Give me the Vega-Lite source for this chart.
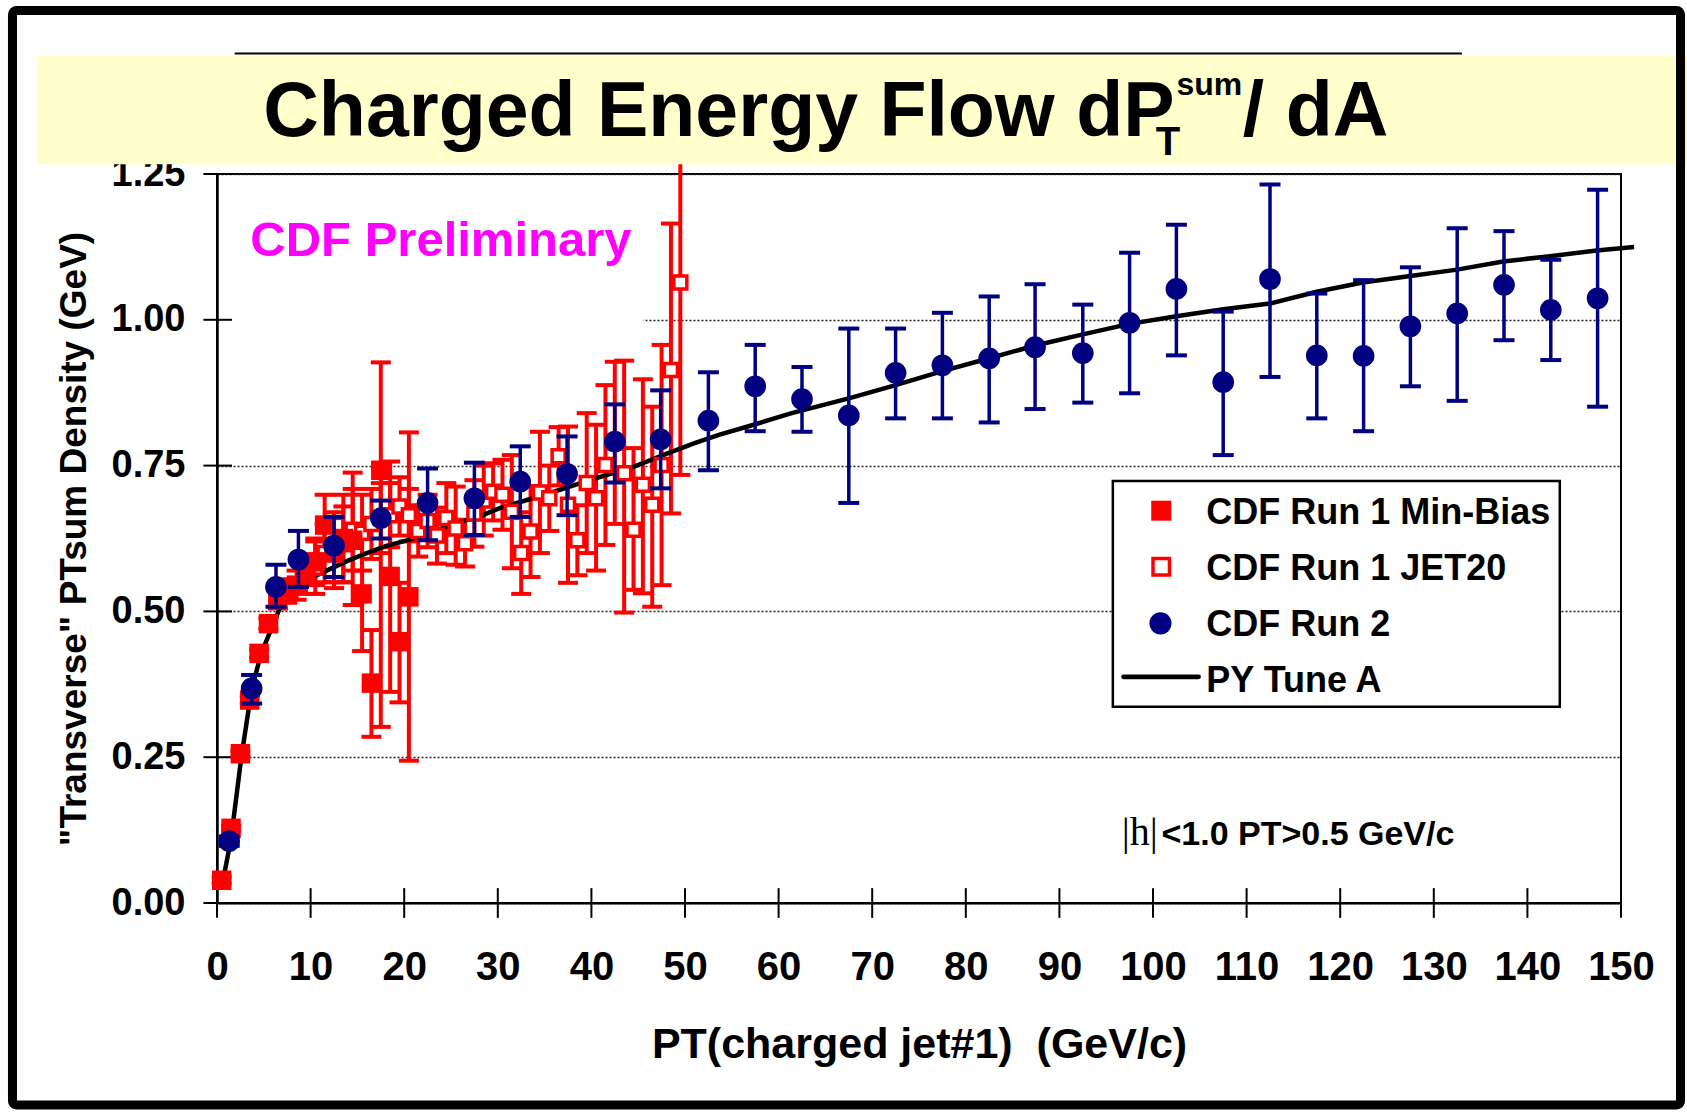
{
"$schema": "https://vega.github.io/schema/vega-lite/v6.json",
"width": 1404, "height": 729,
"autosize": {"type": "none"},
"padding": {"left": 217, "top": 174, "right": 66, "bottom": 216},
"background": "white",
"config": {"view": {"stroke": "black", "strokeWidth": 2}, "font": "Liberation Sans"},
"datasets": {
"minbias": [
{"x":0.5,"y":0.039,"lo":0.034,"hi":0.044},{"x":1.5,"y":0.128,"lo":0.124,"hi":0.132},{"x":2.5,"y":0.256,"lo":0.251,"hi":0.261},
{"x":3.5,"y":0.348,"lo":0.342,"hi":0.354},{"x":4.5,"y":0.428,"lo":0.421,"hi":0.435},{"x":5.5,"y":0.479,"lo":0.47,"hi":0.488},
{"x":6.5,"y":0.52,"lo":0.505,"hi":0.535},{"x":7.5,"y":0.535,"lo":0.515,"hi":0.555},{"x":8.5,"y":0.545,"lo":0.52,"hi":0.57},
{"x":9.5,"y":0.56,"lo":0.53,"hi":0.59},{"x":10.5,"y":0.585,"lo":0.545,"hi":0.625},{"x":11.5,"y":0.648,"lo":0.6,"hi":0.7},
{"x":12.5,"y":0.6,"lo":0.54,"hi":0.66},{"x":13.5,"y":0.625,"lo":0.55,"hi":0.7},{"x":14.5,"y":0.622,"lo":0.511,"hi":0.738},
{"x":15.5,"y":0.53,"lo":0.432,"hi":0.628},{"x":16.5,"y":0.377,"lo":0.285,"hi":0.468},{"x":17.5,"y":0.742,"lo":0.302,"hi":0.927},
{"x":18.5,"y":0.56,"lo":0.362,"hi":0.757},{"x":19.5,"y":0.448,"lo":0.344,"hi":0.549},{"x":20.5,"y":0.525,"lo":0.244,"hi":0.807}],
"jet20": [
{"x":10.5,"y":0.575,"lo":0.53,"hi":0.62},{"x":11.5,"y":0.6,"lo":0.55,"hi":0.65},{"x":12.5,"y":0.61,"lo":0.55,"hi":0.67},
{"x":13.5,"y":0.615,"lo":0.55,"hi":0.68},{"x":14.5,"y":0.64,"lo":0.57,"hi":0.71},{"x":15.5,"y":0.635,"lo":0.57,"hi":0.7},
{"x":16.5,"y":0.65,"lo":0.59,"hi":0.71},{"x":17.5,"y":0.66,"lo":0.6,"hi":0.72},{"x":18.5,"y":0.665,"lo":0.61,"hi":0.72},
{"x":19.5,"y":0.68,"lo":0.63,"hi":0.73},{"x":20.5,"y":0.665,"lo":0.62,"hi":0.71},{"x":21.5,"y":0.638,"lo":0.594,"hi":0.682},
{"x":22.5,"y":0.655,"lo":0.61,"hi":0.7},{"x":23.5,"y":0.63,"lo":0.582,"hi":0.678},{"x":24.5,"y":0.66,"lo":0.6,"hi":0.72},
{"x":25.5,"y":0.642,"lo":0.58,"hi":0.714},{"x":26.5,"y":0.617,"lo":0.577,"hi":0.657},{"x":27.5,"y":0.668,"lo":0.611,"hi":0.725},
{"x":28.5,"y":0.69,"lo":0.63,"hi":0.75},{"x":29.5,"y":0.705,"lo":0.656,"hi":0.754},{"x":30.5,"y":0.7,"lo":0.64,"hi":0.76},
{"x":31.5,"y":0.671,"lo":0.574,"hi":0.768},{"x":32.5,"y":0.6,"lo":0.53,"hi":0.67},{"x":33.5,"y":0.637,"lo":0.559,"hi":0.715},
{"x":34.5,"y":0.704,"lo":0.6,"hi":0.808},{"x":35.5,"y":0.694,"lo":0.638,"hi":0.75},{"x":36.5,"y":0.766,"lo":0.716,"hi":0.816},
{"x":37.5,"y":0.683,"lo":0.549,"hi":0.817},{"x":38.5,"y":0.622,"lo":0.562,"hi":0.682},{"x":39.5,"y":0.72,"lo":0.6,"hi":0.84},
{"x":40.5,"y":0.694,"lo":0.57,"hi":0.82},{"x":41.5,"y":0.751,"lo":0.614,"hi":0.888},{"x":42.5,"y":0.79,"lo":0.65,"hi":0.928},
{"x":43.5,"y":0.737,"lo":0.498,"hi":0.93},{"x":44.5,"y":0.64,"lo":0.537,"hi":0.78},{"x":45.5,"y":0.717,"lo":0.531,"hi":0.898},
{"x":46.5,"y":0.683,"lo":0.508,"hi":0.851},{"x":47.5,"y":0.751,"lo":0.545,"hi":0.957},{"x":48.5,"y":0.914,"lo":0.668,"hi":1.165},
{"x":49.5,"y":1.064,"lo":0.734,"hi":1.35}],
"run2": [
{"x":1.3,"y":0.106,"lo":0.098,"hi":0.114},{"x":3.7,"y":0.368,"lo":0.342,"hi":0.391},{"x":6.3,"y":0.542,"lo":0.508,"hi":0.58},
{"x":8.7,"y":0.589,"lo":0.542,"hi":0.638},{"x":12.5,"y":0.613,"lo":0.559,"hi":0.662},{"x":17.5,"y":0.66,"lo":0.625,"hi":0.69},
{"x":22.5,"y":0.686,"lo":0.622,"hi":0.745},{"x":27.5,"y":0.694,"lo":0.631,"hi":0.755},{"x":32.4,"y":0.7225,"lo":0.662,"hi":0.783},
{"x":37.4,"y":0.736,"lo":0.665,"hi":0.8},{"x":42.5,"y":0.791,"lo":0.721,"hi":0.855},{"x":47.4,"y":0.795,"lo":0.711,"hi":0.879},
{"x":52.5,"y":0.827,"lo":0.742,"hi":0.91},{"x":57.5,"y":0.886,"lo":0.809,"hi":0.957},{"x":62.5,"y":0.864,"lo":0.808,"hi":0.919},
{"x":67.5,"y":0.836,"lo":0.686,"hi":0.985},{"x":72.5,"y":0.909,"lo":0.831,"hi":0.985},{"x":77.5,"y":0.922,"lo":0.831,"hi":1.012},
{"x":82.5,"y":0.934,"lo":0.824,"hi":1.04},{"x":87.4,"y":0.953,"lo":0.847,"hi":1.061},{"x":92.5,"y":0.943,"lo":0.858,"hi":1.026},
{"x":97.5,"y":0.995,"lo":0.874,"hi":1.115},{"x":102.5,"y":1.053,"lo":0.939,"hi":1.163},{"x":107.5,"y":0.893,"lo":0.768,"hi":1.014},
{"x":112.5,"y":1.07,"lo":0.902,"hi":1.232},{"x":117.5,"y":0.939,"lo":0.831,"hi":1.045},{"x":122.5,"y":0.938,"lo":0.809,"hi":1.068},
{"x":127.5,"y":0.989,"lo":0.886,"hi":1.09},{"x":132.5,"y":1.011,"lo":0.861,"hi":1.157},{"x":137.5,"y":1.06,"lo":0.965,"hi":1.152},
{"x":142.5,"y":1.017,"lo":0.931,"hi":1.103},{"x":147.5,"y":1.037,"lo":0.851,"hi":1.223}],
"pytune": [
{"x":0.6,"y":0.035},{"x":1.5,"y":0.11},{"x":2.6,"y":0.25},{"x":3.7,"y":0.366},{"x":4.7,"y":0.427},{"x":5.8,"y":0.47},
{"x":6.7,"y":0.505},{"x":7.4,"y":0.527},{"x":8.5,"y":0.545},{"x":10,"y":0.557},{"x":12,"y":0.572},{"x":14,"y":0.587},
{"x":16,"y":0.6},{"x":18,"y":0.612},{"x":20.6,"y":0.623},{"x":23,"y":0.637},{"x":26,"y":0.653},{"x":28.4,"y":0.665},
{"x":30.2,"y":0.677},{"x":35,"y":0.7},{"x":40,"y":0.726},{"x":44.5,"y":0.748},{"x":48,"y":0.77},{"x":51.1,"y":0.789},
{"x":53.7,"y":0.803},{"x":56.7,"y":0.817},{"x":61.4,"y":0.84},{"x":67.7,"y":0.866},{"x":72.5,"y":0.888},{"x":77.5,"y":0.912},
{"x":82.5,"y":0.934},{"x":87.2,"y":0.955},{"x":92.5,"y":0.975},{"x":97.5,"y":0.993},{"x":102.5,"y":1.006},{"x":107.5,"y":1.018},
{"x":112.5,"y":1.028},{"x":117.5,"y":1.048},{"x":122.4,"y":1.064},{"x":127.5,"y":1.075},{"x":132.5,"y":1.086},{"x":137.4,"y":1.1},
{"x":142.4,"y":1.109},{"x":147.4,"y":1.119},{"x":151.4,"y":1.125}],
"xticks": [{"v":0},{"v":10},{"v":20},{"v":30},{"v":40},{"v":50},{"v":60},{"v":70},{"v":80},{"v":90},{"v":100},{"v":110},{"v":120},{"v":130},{"v":140},{"v":150}],
"yticks": [{"v":0},{"v":0.25},{"v":0.5},{"v":0.75},{"v":1.0},{"v":1.25}]
},
"layer": [
{"data": {"name": "pytune"}, "mark": {"type": "line", "opacity": 0},
 "encoding": {
  "x": {"field": "x", "type": "quantitative", "scale": {"domain": [0,150], "nice": false},
   "axis": {"title": "PT(charged jet#1)\u00a0 (GeV/c)", "values": [0,10,20,30,40,50,60,70,80,90,100,110,120,130,140,150],
    "labelFont": "Liberation Sans", "labelFontWeight": "bold", "labelFontSize": 40, "labelColor": "black", "labelFlush": false, "labelOverlap": false,
    "labelPadding": 44, "ticks": false, "tickSize": 0, "grid": false, "domainColor": "black", "domainWidth": 2,
    "titleFont": "Liberation Sans", "titleFontWeight": "bold", "titleFontSize": 43, "titleColor": "black", "titlePadding": 36, "titleLimit": 2000}},
  "y": {"field": "y", "type": "quantitative", "scale": {"domain": [0,1.25], "nice": false},
   "axis": {"title": "\"Transverse\" PTsum Density (GeV)", "values": [0,0.25,0.5,0.75,1.0,1.25], "format": ".2f",
    "labelFont": "Liberation Sans", "labelFontWeight": "bold", "labelFontSize": 38, "labelColor": "black", "labelFlush": false, "labelOverlap": false,
    "labelPadding": 32, "ticks": false, "tickSize": 0, "grid": true, "gridColor": "#222222", "gridDash": [2,2], "gridWidth": 1.3,
    "domainColor": "black", "domainWidth": 2.5,
    "titleFont": "Liberation Sans", "titleFontWeight": "bold", "titleFontSize": 37, "titleColor": "black", "titlePadding": 18, "titleLimit": 2000}}}},
{"data": {"values": [{}]}, "mark": {"type": "rect", "fill": "white", "strokeWidth": 0},
 "encoding": {"x": {"datum": 0.3, "type": "quantitative", "scale": {"domain": [0,150], "nice": false}}, "x2": {"datum": 45.55},
  "y": {"datum": 0.96, "type": "quantitative", "scale": {"domain": [0,1.25], "nice": false}}, "y2": {"datum": 1.24}}},
{"data": {"name": "xticks"}, "mark": {"type": "rule", "color": "black", "strokeWidth": 2},
 "encoding": {"x": {"field": "v", "type": "quantitative", "scale": {"domain": [0,150], "nice": false}},
  "y": {"datum": -0.0255, "type": "quantitative", "scale": {"domain": [0,1.25], "nice": false}}, "y2": {"datum": 0.0255}}},
{"data": {"name": "yticks"}, "mark": {"type": "rule", "color": "black", "strokeWidth": 2},
 "encoding": {"y": {"field": "v", "type": "quantitative", "scale": {"domain": [0,1.25], "nice": false}},
  "x": {"datum": -1.45, "type": "quantitative", "scale": {"domain": [0,150], "nice": false}}, "x2": {"datum": 1.6}}},
{"data": {"name": "jet20"}, "mark": {"type": "rule", "color": "#FF0000", "strokeWidth": 4},
 "encoding": {"x": {"field": "x", "type": "quantitative", "scale": {"domain": [0,150], "nice": false}},
  "y": {"field": "lo", "type": "quantitative", "scale": {"domain": [0,1.25], "nice": false}}, "y2": {"field": "hi"}}},
{"data": {"name": "jet20"}, "mark": {"type": "tick", "orient": "horizontal", "color": "#FF0000", "size": 20, "thickness": 4, "opacity": 1},
 "encoding": {"x": {"field": "x", "type": "quantitative", "scale": {"domain": [0,150], "nice": false}},
  "y": {"field": "lo", "type": "quantitative", "scale": {"domain": [0,1.25], "nice": false}}}},
{"data": {"name": "jet20"}, "mark": {"type": "tick", "orient": "horizontal", "color": "#FF0000", "size": 20, "thickness": 4, "opacity": 1},
 "encoding": {"x": {"field": "x", "type": "quantitative", "scale": {"domain": [0,150], "nice": false}},
  "y": {"field": "hi", "type": "quantitative", "scale": {"domain": [0,1.25], "nice": false}}}},
{"data": {"name": "minbias"}, "mark": {"type": "rule", "color": "#FF0000", "strokeWidth": 4},
 "encoding": {"x": {"field": "x", "type": "quantitative", "scale": {"domain": [0,150], "nice": false}},
  "y": {"field": "lo", "type": "quantitative", "scale": {"domain": [0,1.25], "nice": false}}, "y2": {"field": "hi"}}},
{"data": {"name": "minbias"}, "mark": {"type": "tick", "orient": "horizontal", "color": "#FF0000", "size": 20, "thickness": 4, "opacity": 1},
 "encoding": {"x": {"field": "x", "type": "quantitative", "scale": {"domain": [0,150], "nice": false}},
  "y": {"field": "lo", "type": "quantitative", "scale": {"domain": [0,1.25], "nice": false}}}},
{"data": {"name": "minbias"}, "mark": {"type": "tick", "orient": "horizontal", "color": "#FF0000", "size": 20, "thickness": 4, "opacity": 1},
 "encoding": {"x": {"field": "x", "type": "quantitative", "scale": {"domain": [0,150], "nice": false}},
  "y": {"field": "hi", "type": "quantitative", "scale": {"domain": [0,1.25], "nice": false}}}},
{"data": {"name": "pytune"}, "mark": {"type": "line", "color": "black", "strokeWidth": 4.5, "clip": false},
 "encoding": {"x": {"field": "x", "type": "quantitative", "scale": {"domain": [0,150], "nice": false}},
  "y": {"field": "y", "type": "quantitative", "scale": {"domain": [0,1.25], "nice": false}}}},
{"data": {"name": "jet20"}, "mark": {"type": "point", "shape": "square", "filled": true, "fill": "white", "stroke": "#FF0000", "strokeWidth": 3.5, "size": 170, "opacity": 1},
 "encoding": {"x": {"field": "x", "type": "quantitative", "scale": {"domain": [0,150], "nice": false}},
  "y": {"field": "y", "type": "quantitative", "scale": {"domain": [0,1.25], "nice": false}}}},
{"data": {"name": "minbias"}, "mark": {"type": "point", "shape": "square", "filled": true, "color": "#FF0000", "size": 380, "opacity": 1},
 "encoding": {"x": {"field": "x", "type": "quantitative", "scale": {"domain": [0,150], "nice": false}},
  "y": {"field": "y", "type": "quantitative", "scale": {"domain": [0,1.25], "nice": false}}}},
{"data": {"name": "run2"}, "mark": {"type": "rule", "color": "#000080", "strokeWidth": 3.5},
 "encoding": {"x": {"field": "x", "type": "quantitative", "scale": {"domain": [0,150], "nice": false}},
  "y": {"field": "lo", "type": "quantitative", "scale": {"domain": [0,1.25], "nice": false}}, "y2": {"field": "hi"}}},
{"data": {"name": "run2"}, "mark": {"type": "tick", "orient": "horizontal", "color": "#000080", "size": 21, "thickness": 4, "opacity": 1},
 "encoding": {"x": {"field": "x", "type": "quantitative", "scale": {"domain": [0,150], "nice": false}},
  "y": {"field": "lo", "type": "quantitative", "scale": {"domain": [0,1.25], "nice": false}}}},
{"data": {"name": "run2"}, "mark": {"type": "tick", "orient": "horizontal", "color": "#000080", "size": 21, "thickness": 4, "opacity": 1},
 "encoding": {"x": {"field": "x", "type": "quantitative", "scale": {"domain": [0,150], "nice": false}},
  "y": {"field": "hi", "type": "quantitative", "scale": {"domain": [0,1.25], "nice": false}}}},
{"data": {"name": "run2"}, "mark": {"type": "point", "shape": "circle", "filled": true, "color": "#000080", "size": 470, "opacity": 1},
 "encoding": {"x": {"field": "x", "type": "quantitative", "scale": {"domain": [0,150], "nice": false}},
  "y": {"field": "y", "type": "quantitative", "scale": {"domain": [0,1.25], "nice": false}}}},
{"data": {"values": [{}]}, "mark": {"type": "rect", "fill": "white", "stroke": "black", "strokeWidth": 2.5},
 "encoding": {"x": {"datum": 95.71, "type": "quantitative", "scale": {"domain": [0,150], "nice": false}}, "x2": {"datum": 143.46},
  "y": {"datum": 0.3364, "type": "quantitative", "scale": {"domain": [0,1.25], "nice": false}}, "y2": {"datum": 0.7237}}},
{"data": {"values": [{}]}, "mark": {"type": "point", "shape": "square", "filled": true, "color": "#FF0000", "size": 400, "opacity": 1},
 "encoding": {"x": {"datum": 100.88, "type": "quantitative", "scale": {"domain": [0,150], "nice": false}},
  "y": {"datum": 0.6727, "type": "quantitative", "scale": {"domain": [0,1.25], "nice": false}}}},
{"data": {"values": [{}]}, "mark": {"type": "point", "shape": "square", "filled": true, "fill": "white", "stroke": "#FF0000", "strokeWidth": 3.5, "size": 270, "opacity": 1},
 "encoding": {"x": {"datum": 100.88, "type": "quantitative", "scale": {"domain": [0,150], "nice": false}},
  "y": {"datum": 0.5766, "type": "quantitative", "scale": {"domain": [0,1.25], "nice": false}}}},
{"data": {"values": [{}]}, "mark": {"type": "point", "shape": "circle", "filled": true, "color": "#000080", "size": 490, "opacity": 1},
 "encoding": {"x": {"datum": 100.8, "type": "quantitative", "scale": {"domain": [0,150], "nice": false}},
  "y": {"datum": 0.4795, "type": "quantitative", "scale": {"domain": [0,1.25], "nice": false}}}},
{"data": {"values": [{}]}, "mark": {"type": "rule", "color": "black", "strokeWidth": 4.7, "strokeCap": "round"},
 "encoding": {"x": {"datum": 96.85, "type": "quantitative", "scale": {"domain": [0,150], "nice": false}}, "x2": {"datum": 104.87},
  "y": {"datum": 0.3879, "type": "quantitative", "scale": {"domain": [0,1.25], "nice": false}}}},
{"data": {"values": [{"t": "CDF Run 1 Min-Bias", "yy": 0.650}, {"t": "CDF Run 1 JET20", "yy": 0.5538}, {"t": "CDF Run 2", "yy": 0.4583}, {"t": "PY Tune A", "yy": 0.3622}]},
 "mark": {"type": "text", "align": "left", "baseline": "alphabetic", "font": "Liberation Sans", "fontWeight": "bold", "fontSize": 36, "color": "black"},
 "encoding": {"x": {"datum": 105.69, "type": "quantitative", "scale": {"domain": [0,150], "nice": false}},
  "y": {"field": "yy", "type": "quantitative", "scale": {"domain": [0,1.25], "nice": false}}, "text": {"field": "t"}}},
{"data": {"values": [{}]}, "mark": {"type": "text", "text": "CDF Preliminary", "align": "left", "baseline": "alphabetic", "font": "Liberation Sans", "fontWeight": "bold", "fontSize": 49, "color": "#FF00FF"},
 "encoding": {"x": {"datum": 3.56, "type": "quantitative", "scale": {"domain": [0,150], "nice": false}},
  "y": {"datum": 1.1087, "type": "quantitative", "scale": {"domain": [0,1.25], "nice": false}}}},
{"data": {"values": [{}]}, "mark": {"type": "text", "text": "|h|", "align": "left", "baseline": "alphabetic", "font": "Liberation Serif", "fontSize": 40, "color": "black"},
 "encoding": {"x": {"datum": 96.67, "type": "quantitative", "scale": {"domain": [0,150], "nice": false}},
  "y": {"datum": 0.0993, "type": "quantitative", "scale": {"domain": [0,1.25], "nice": false}}}},
{"data": {"values": [{}]}, "mark": {"type": "text", "text": "<1.0 PT>0.5 GeV/c", "align": "left", "baseline": "alphabetic", "font": "Liberation Sans", "fontWeight": "bold", "fontSize": 34, "color": "black"},
 "encoding": {"x": {"datum": 100.9, "type": "quantitative", "scale": {"domain": [0,150], "nice": false}},
  "y": {"datum": 0.0993, "type": "quantitative", "scale": {"domain": [0,1.25], "nice": false}}}},
{"data": {"values": [{}]}, "mark": {"type": "rect", "fill": "#FFFFCC", "strokeWidth": 0},
 "encoding": {"x": {"datum": -19.18, "type": "quantitative", "scale": {"domain": [0,150], "nice": false}}, "x2": {"datum": 160},
  "y": {"datum": 1.2667, "type": "quantitative", "scale": {"domain": [0,1.25], "nice": false}}, "y2": {"datum": 1.453}}},
{"data": {"values": [{}]}, "mark": {"type": "rule", "color": "black", "strokeWidth": 2},
 "encoding": {"x": {"datum": 1.89, "type": "quantitative", "scale": {"domain": [0,150], "nice": false}}, "x2": {"datum": 133.0},
  "y": {"datum": 1.4565, "type": "quantitative", "scale": {"domain": [0,1.25], "nice": false}}}},
{"data": {"values": [{}]}, "mark": {"type": "text", "text": "Charged Energy Flow dP", "align": "left", "baseline": "alphabetic", "font": "Liberation Sans", "fontWeight": "bold", "fontSize": 77, "color": "black"},
 "encoding": {"x": {"datum": 4.94, "type": "quantitative", "scale": {"domain": [0,150], "nice": false}},
  "y": {"datum": 1.3146, "type": "quantitative", "scale": {"domain": [0,1.25], "nice": false}}}},
{"data": {"values": [{}]}, "mark": {"type": "text", "text": "sum", "align": "left", "baseline": "alphabetic", "font": "Liberation Sans", "fontWeight": "bold", "fontSize": 32, "color": "black"},
 "encoding": {"x": {"datum": 102.5, "type": "quantitative", "scale": {"domain": [0,150], "nice": false}},
  "y": {"datum": 1.386, "type": "quantitative", "scale": {"domain": [0,1.25], "nice": false}}}},
{"data": {"values": [{}]}, "mark": {"type": "text", "text": "T", "align": "left", "baseline": "alphabetic", "font": "Liberation Sans", "fontWeight": "bold", "fontSize": 40, "color": "black"},
 "encoding": {"x": {"datum": 100.3, "type": "quantitative", "scale": {"domain": [0,150], "nice": false}},
  "y": {"datum": 1.283, "type": "quantitative", "scale": {"domain": [0,1.25], "nice": false}}}},
{"data": {"values": [{}]}, "mark": {"type": "text", "text": "/ dA", "align": "left", "baseline": "alphabetic", "font": "Liberation Sans", "fontWeight": "bold", "fontSize": 77, "color": "black"},
 "encoding": {"x": {"datum": 109.6, "type": "quantitative", "scale": {"domain": [0,150], "nice": false}},
  "y": {"datum": 1.3146, "type": "quantitative", "scale": {"domain": [0,1.25], "nice": false}}}},
{"data": {"values": [{}]}, "mark": {"type": "rect", "fill": "white", "fillOpacity": 0, "stroke": "black", "strokeWidth": 9, "cornerRadius": 4},
 "encoding": {"x": {"datum": -21.85, "type": "quantitative", "scale": {"domain": [0,150], "nice": false}}, "x2": {"datum": 156.36},
  "y": {"datum": -0.3463, "type": "quantitative", "scale": {"domain": [0,1.25], "nice": false}}, "y2": {"datum": 1.5303}}}
]
}
